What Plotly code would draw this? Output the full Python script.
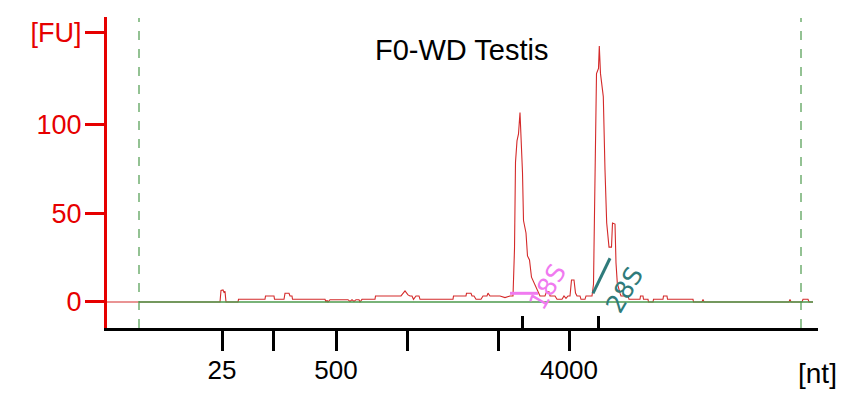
import plotly.graph_objects as go

# Electropherogram trace (x: migration position units, y: fluorescence [FU])
trace_x = [107, 220, 221, 223, 224, 225, 226, 238, 238.5, 265, 265.5, 274, 274.5, 284, 285, 289, 290, 292,
           292.5, 325, 326, 327, 328, 330, 348, 350, 352, 354, 356, 359, 360, 362, 375, 375.5, 401, 405,
           408, 410, 412, 413.5, 416, 419, 420, 453, 453.5, 466, 466.5, 471, 472, 474, 476, 481, 483, 487,
           488, 490, 500, 505, 510, 513, 514.5, 515.5, 517, 518.5, 520, 521.5, 522.5, 523.5, 526, 527.5,
           529.5, 531.5, 535, 538, 540, 545, 546.5, 549, 550, 555, 557, 562, 564, 566, 568, 570, 571.5,
           574, 575.5, 577, 580, 581, 585, 586, 592, 593.5, 595.5, 596.5, 598.5, 599.3, 600.5, 603.3,
           605, 606.7, 609, 611.5, 612.5, 615, 616, 617.3, 620, 621, 628, 629, 640, 640.5, 643, 643.5,
           648, 648.5, 653, 653.5, 663, 663.5, 667, 667.5, 693, 693.5, 702, 703, 704, 789, 790, 791,
           802, 803, 808, 809, 813]
trace_y = [0, 0, 6.5, 6.8, 5.5, 6, 0, 0, 1.5, 1.5, 3.4, 3.4, 1.5, 1.5, 4.9, 4.9, 3.4, 3.4,
           1.5, 1.5, 0, 1, 0, 1.3, 1.3, 0.3, 1.3, 0.3, 1.3, 1.3, 0, 1.5, 1.5, 3.4, 3.4, 6.2,
           4, 3.4, 3.4, 1.5, 3.4, 3.4, 1.5, 1.5, 3.4, 3.4, 4.9, 4.9, 3.4, 3.4, 1.5, 1.5, 3.4, 3.4,
           5, 3.4, 3.4, 2.5, 3.4, 3.4, 30, 79, 91, 95, 107, 91, 73, 46, 39, 26,
           23.7, 14, 9.6, 6.8, 3.4, 3.4, 5.8, 5.8, 3.4, 3.4, 1.5, 1.5, 3.4, 2, 3.4, 3.4, 12.4,
           12.4, 5, 3.4, 3.4, 1.5, 1.5, 3.4, 3.4, 10, 78, 129, 132, 144.6, 129, 116,
           74.6, 44.6, 31, 31, 44.6, 44, 22, 10.7, 5, 3.4, 3.4, 1.5, 1.5, 3.4, 3.4, 1.5,
           1.5, 0, 0, 1.5, 1.5, 3.4, 3.4, 1.5, 1.5, 0, 0, 1.5, 0, 0, 1.5, 0,
           0, 1.5, 1.5, 0, 0]

baseline_x = [139, 813]
baseline_y = [0, 0]

marker_lines_x = [139, 801]          # lower / upper marker (dashed)
ladder_tick_x = [222, 273, 336, 407, 498, 569]
ladder_tick_text = ["25", "", "500", "", "", "4000"]
peak_tick_x = [522, 598]

s18_x = [510, 538]
s18_y = [4.9, 4.9]
s28_x = [593, 610]
s28_y = [4.9, 24.7]

y_tick_vals = [0, 50, 100, 152]
y_tick_text = ["0", "50", "100", "[FU]"]

RED = "#e60000"
TRACE = "#d42a2a"
GREEN = "#4c9a4c"
VIOLET = "#f07af0"
TEAL = "#2f7b7b"
FONT = "Liberation Sans, Arial"

fig = go.Figure()
fig.add_trace(go.Scatter(x=trace_x, y=trace_y, mode="lines",
                         line=dict(color=TRACE, width=1.1), showlegend=False, hoverinfo="skip"))
fig.add_trace(go.Scatter(x=baseline_x, y=baseline_y, mode="lines",
                         line=dict(color=GREEN, width=1.3), showlegend=False, hoverinfo="skip"))
fig.add_trace(go.Scatter(x=s18_x, y=s18_y, mode="lines",
                         line=dict(color=VIOLET, width=3), showlegend=False, hoverinfo="skip"))
fig.add_trace(go.Scatter(x=s28_x, y=s28_y, mode="lines",
                         line=dict(color=TEAL, width=3), showlegend=False, hoverinfo="skip"))
# invisible trace to activate xaxis2 (peak marker ticks pointing up)
fig.add_trace(go.Scatter(x=peak_tick_x, y=[None, None], xaxis="x2", mode="lines",
                         showlegend=False, hoverinfo="skip"))

for mx in marker_lines_x:
    fig.add_shape(type="line", xref="x", yref="paper", x0=mx, x1=mx, y0=0, y1=0.997,
                  line=dict(color=GREEN, width=1.2, dash="dash"))

fig.add_annotation(text="F0-WD Testis", x=461, xref="x", yref="paper", y=(328 - 50) / 311,
                   yanchor="middle", showarrow=False,
                   font=dict(family=FONT, size=29, color="black"))
fig.add_annotation(text="[nt]", x=817, xref="x", yref="paper", y=-(373 - 328) / 311,
                   yanchor="middle", xanchor="center", showarrow=False,
                   font=dict(family=FONT, size=28, color="black"))
fig.add_annotation(text="18S", x=548, y=8.5, xref="x", yref="y", textangle=-60,
                   showarrow=False, font=dict(family="DejaVu Sans", size=25, color=VIOLET))
fig.add_annotation(text="28S", x=625, y=6.8, xref="x", yref="y", textangle=-60,
                   showarrow=False, font=dict(family="DejaVu Sans", size=25, color=TEAL))

fig.update_layout(
    width=851, height=394,
    margin=dict(l=107, r=33, t=17, b=66),
    plot_bgcolor="white", paper_bgcolor="white",
    xaxis=dict(range=[107, 818], showgrid=False, zeroline=False, showline=True, automargin=False,
               linecolor="black", linewidth=3, ticks="outside", ticklen=20, tickwidth=3,
               tickcolor="black", tickvals=ladder_tick_x, ticktext=ladder_tick_text,
               ticklabelstandoff=-3,
               tickfont=dict(family=FONT, size=26, color="black")),
    xaxis2=dict(range=[107, 818], overlaying="x", anchor="y", side="bottom",
                showgrid=False, zeroline=False, showline=False, ticks="inside", automargin=False,
                ticklen=12, tickwidth=3, tickcolor="black", tickvals=peak_tick_x,
                showticklabels=False),
    yaxis=dict(range=[-14.7, 161], showgrid=False, zeroline=False, showline=True, automargin=False,
               linecolor=RED, linewidth=3, ticks="outside", ticklen=19, tickwidth=3,
               tickcolor=RED, tickvals=y_tick_vals, ticktext=y_tick_text,
               ticklabelstandoff=-2,
               tickfont=dict(family=FONT, size=27, color=RED)),
)

fig.write_html("out.html")
